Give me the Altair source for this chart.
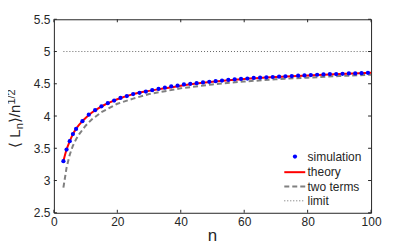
import altair as alt
import pandas as pd

# ---- data ----
sim_n = [3, 4, 5, 6, 7, 9, 11, 13, 15, 17, 19, 21, 23, 25, 27, 29, 31, 33, 35, 37,
         39, 41, 43, 45, 47, 49, 51, 53, 55, 57, 59, 61, 63, 65, 67, 69, 71, 73, 75,
         77, 79, 81, 83, 85, 87, 89, 91, 93, 95, 97, 99]
sim_val = [3.30, 3.48, 3.61, 3.72, 3.80, 3.92, 4.02, 4.09, 4.15, 4.20, 4.24, 4.28,
           4.31, 4.34, 4.36, 4.38, 4.40, 4.42, 4.44, 4.46, 4.47, 4.49, 4.50, 4.51,
           4.52, 4.53, 4.54, 4.55, 4.56, 4.57, 4.575, 4.58, 4.59, 4.595, 4.60, 4.605,
           4.61, 4.615, 4.62, 4.625, 4.63, 4.635, 4.64, 4.645, 4.65, 4.65, 4.655,
           4.66, 4.66, 4.665, 4.67]

theory_n = [3, 4, 5, 6, 7, 8, 9, 10, 12, 14, 16, 18, 20, 25, 30, 35, 40, 50, 60, 70, 80, 90, 100]
theory_val = [3.30, 3.48, 3.61, 3.72, 3.80, 3.865, 3.92, 3.97, 4.055, 4.12, 4.175, 4.22,
              4.26, 4.34, 4.39, 4.43, 4.47, 4.53, 4.575, 4.605, 4.63, 4.65, 4.67]

two_n = [3, 4, 5, 6, 7, 8, 10, 12, 15, 20, 25, 30, 40, 50, 60, 70, 80, 90, 100]
two_val = [2.89, 3.20, 3.40, 3.54, 3.64, 3.72, 3.85, 3.95, 4.06, 4.19, 4.27, 4.34,
           4.43, 4.49, 4.535, 4.57, 4.595, 4.62, 4.64]

limit_n = [3, 100]
limit_val = [5.0, 5.0]

x_ticks = [0, 20, 40, 60, 80, 100]
y_ticks = [2.5, 3.0, 3.5, 4.0, 4.5, 5.0, 5.5]

legend_labels = ["simulation", "theory", "two terms", "limit"]

# ---- layout ----
W, H = 318, 194
FONT = "Liberation Sans"
INK = "#262626"

sim_df = pd.DataFrame({"n": sim_n, "v": sim_val})
th_df = pd.DataFrame({"n": theory_n, "v": theory_val})
two_df = pd.DataFrame({"n": two_n, "v": two_val})
lim_df = pd.DataFrame({"n": limit_n, "v": limit_val})
xt_df = pd.DataFrame({"t": x_ticks})
yt_df = pd.DataFrame({"t": y_ticks})

xs = alt.Scale(domain=[0, 100], nice=False, zero=False)
ys = alt.Scale(domain=[2.5, 5.5], nice=False, zero=False)

xax = alt.Axis(values=x_ticks, title=None)
yax = alt.Axis(values=y_ticks, format="~g", title=None)

def px(f="n:Q"):
    return alt.X(f, scale=xs, axis=xax)

def py(f="v:Q"):
    return alt.Y(f, scale=ys, axis=yax)

sim = alt.Chart(sim_df).mark_circle(color="#0000ff", size=18, opacity=1).encode(x=px(), y=py())
limit = alt.Chart(lim_df).mark_line(color="#666666", strokeWidth=1, strokeDash=[1, 2]).encode(
    x=px(), y=py())
two = alt.Chart(two_df).mark_line(color="#808080", strokeWidth=2, strokeDash=[5, 3]).encode(
    x=px(), y=py())
theory = alt.Chart(th_df).mark_line(color="#ff0000", strokeWidth=2, interpolate="monotone").encode(
    x=px(), y=py())

# inward ticks on all four sides
tb = alt.Chart(xt_df).mark_rule(color=INK, strokeWidth=1).encode(
    x=px("t:Q"), y=alt.value(H), y2=alt.value(H - 3))
tt = alt.Chart(xt_df).mark_rule(color=INK, strokeWidth=1).encode(
    x=px("t:Q"), y=alt.value(0), y2=alt.value(3))
tl = alt.Chart(yt_df).mark_rule(color=INK, strokeWidth=1).encode(
    y=py("t:Q"), x=alt.value(0), x2=alt.value(3))
tr = alt.Chart(yt_df).mark_rule(color=INK, strokeWidth=1).encode(
    y=py("t:Q"), x=alt.value(W), x2=alt.value(W - 3))

one = pd.DataFrame({"a": [0]})

# x-axis title
xtitle = alt.Chart(one).mark_text(text="n", align="center", baseline="alphabetic",
                                  font=FONT, fontSize=17, color=INK).encode(
    x=alt.value(W / 2), y=alt.value(222))

# y-axis title  < L_n >/n^{1/2}  (rotated)
def ytext(txt, xv, yv, size):
    return alt.Chart(one).mark_text(text=txt, angle=270, align="left", baseline="alphabetic",
                                    font=FONT, fontSize=size, color=INK).encode(
        x=alt.value(xv), y=alt.value(yv))

yt1 = ytext("\u27e8 L", -34, 129, 15)
yt2 = ytext("n", -30.5, 110.3, 11)
yt3 = ytext("\u27e9/n", -34, 104.2, 15)
yt4 = ytext("1/2", -38.5, 85.5, 11)

# manual legend
rows = [137.7, 153.3, 167.7, 182]
leg = []
leg.append(alt.Chart(one).mark_circle(color="#0000ff", size=18, opacity=1).encode(
    x=alt.value(241.7), y=alt.value(rows[0])))
leg.append(alt.Chart(one).mark_rule(color="#ff0000", strokeWidth=2).encode(
    x=alt.value(231), x2=alt.value(252), y=alt.value(rows[1])))
leg.append(alt.Chart(one).mark_rule(color="#808080", strokeWidth=2, strokeDash=[5, 3]).encode(
    x=alt.value(231), x2=alt.value(252), y=alt.value(rows[2])))
leg.append(alt.Chart(one).mark_rule(color="#666666", strokeWidth=1, strokeDash=[1, 2]).encode(
    x=alt.value(231), x2=alt.value(252), y=alt.value(rows[3])))
for lab, ry in zip(legend_labels, rows):
    leg.append(alt.Chart(one).mark_text(text=lab, align="left", baseline="middle",
                                        font=FONT, fontSize=12, color=INK).encode(
        x=alt.value(254.3), y=alt.value(ry)))

chart = alt.layer(limit, two, theory, sim, tb, tt, tl, tr, xtitle, yt1, yt2, yt3, yt4, *leg).properties(
    width=W, height=H,
    background="white",
    autosize=alt.AutoSizeParams(type="none"),
    padding={"left": 46, "top": 11, "right": 30, "bottom": 32},
).configure_view(stroke=INK, strokeWidth=1).configure_axis(
    ticks=False, domain=False, grid=False, labelFont=FONT, labelFontSize=12,
    labelColor=INK, labelPadding=4, labelFlush=False, labelOverlap=False, labelBound=False
)

chart.save("out.html", embed_options={"renderer": "svg", "actions": False})
